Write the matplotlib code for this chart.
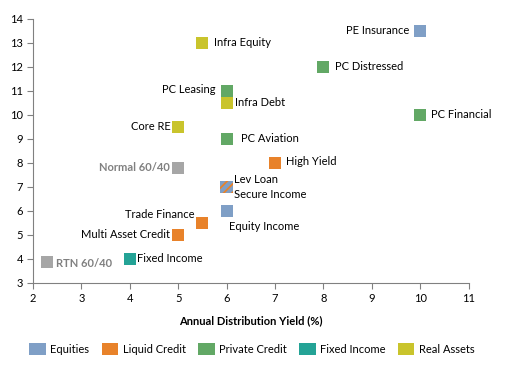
import matplotlib
matplotlib.use("Agg")
import matplotlib.pyplot as plt
from matplotlib.patches import Patch

plt.rcParams['font.family'] = ['Lato', 'DejaVu Sans']
plt.rcParams['hatch.linewidth'] = 1.3

names = ["PE Insurance", "Infra Equity", "PC Distressed", "PC Leasing", "Infra Debt",
         "PC Financial", "Core RE", "PC Aviation", "High Yield", "Normal 60/40",
         "Lev Loan\nSecure Income", "Equity Income", "Trade Finance", "Multi Asset Credit",
         "Fixed Income", "RTN 60/40"]
yield_x = [10, 5.5, 8, 6, 6, 10, 5, 6, 7, 5, 6, 6, 5.5, 5, 4, 2.3]
return_y = [13.5, 13, 12, 11, 10.5, 10, 9.5, 9, 8, 7.8, 7, 6, 5.5, 5, 4, 3.85]
groups = ["Equities", "Real Assets", "Private Credit", "Private Credit", "Real Assets",
          "Private Credit", "Real Assets", "Private Credit", "Liquid Credit", "Benchmark",
          "Mixed", "Equities", "Liquid Credit", "Liquid Credit", "Fixed Income", "Benchmark"]

legend_groups = ["Equities", "Liquid Credit", "Private Credit", "Fixed Income", "Real Assets"]
colors = {"Equities": "#7f9fc6", "Liquid Credit": "#e8822a", "Private Credit": "#62a865",
          "Fixed Income": "#24a396", "Real Assets": "#c9c42c", "Benchmark": "#a6a6a6",
          "Mixed": "#7f9fc6"}

# label placement (offset in points, horizontal alignment)
label_pos = {
    "PE Insurance": (-8, 0, 'right', 'center'),
    "Infra Equity": (8, 0, 'left', 'center'),
    "PC Distressed": (8, 0, 'left', 'center'),
    "PC Leasing": (-8, 1, 'right', 'center'),
    "Infra Debt": (6, 0, 'left', 'center'),
    "PC Financial": (8, 0, 'left', 'center'),
    "Core RE": (-5, 0, 'right', 'center'),
    "PC Aviation": (10, 0, 'left', 'center'),
    "High Yield": (8, 1, 'left', 'center'),
    "Normal 60/40": (-6, 0, 'right', 'center'),
    "Lev Loan\nSecure Income": (5, 0, 'left', 'center'),
    "Equity Income": (2, -7, 'left', 'top'),
    "Trade Finance": (-6, 6, 'right', 'center'),
    "Multi Asset Credit": (-6, 0, 'right', 'center'),
    "Fixed Income": (5, 0, 'left', 'center'),
    "RTN 60/40": (6, -1, 'left', 'center'),
}

fig = plt.figure(figsize=(5.14, 3.65), dpi=100)
ax = fig.add_axes([0.064, 0.225, 0.848, 0.723])

for n, x, y, g in zip(names, yield_x, return_y, groups):
    if g == "Mixed":
        ax.scatter([x], [y], marker='s', s=80, facecolor=colors["Equities"],
                   edgecolor=colors["Liquid Credit"], linewidths=0, hatch='////', zorder=3)
    else:
        ax.scatter([x], [y], marker='s', s=80, color=colors[g], linewidths=0, zorder=3)
    dx, dy, ha, va = label_pos[n]
    bench = g == "Benchmark"
    ax.annotate(n, (x, y), xytext=(dx, dy), textcoords='offset points', ha=ha, va=va,
                fontsize=8, color='#808080' if bench else '#000000',
                fontweight='bold' if bench else 'normal', linespacing=1.4)

ax.set_xlim(2, 11)
ax.set_ylim(3, 14)
ax.set_xticks(range(2, 12))
ax.set_yticks(range(3, 15))
for s in ['top', 'right']:
    ax.spines[s].set_visible(False)
for s in ['left', 'bottom']:
    ax.spines[s].set_color('#808080')
    ax.spines[s].set_linewidth(0.8)
ax.tick_params(direction='out', length=4, width=0.8, color='#808080', labelsize=8, pad=3)
ax.set_xlabel("Annual Distribution Yield (%)", fontsize=8, fontweight='bold', labelpad=8)

handles = [Patch(facecolor=colors[g], edgecolor='none', label=g) for g in legend_groups]
fig.legend(handles=handles, loc='lower center', bbox_to_anchor=(0.49, 0.0), ncol=5,
           frameon=False, fontsize=8, handlelength=1.5, handleheight=1.3,
           columnspacing=1.1, handletextpad=0.4)

fig.savefig("out.png", dpi=100)
